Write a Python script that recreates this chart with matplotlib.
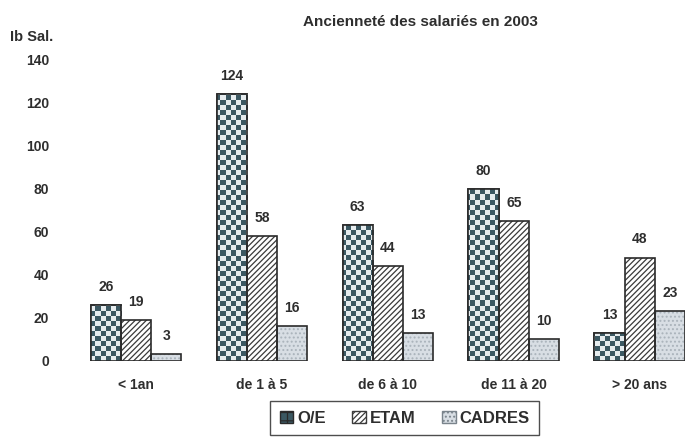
import numpy as np
import matplotlib
matplotlib.use("Agg")
import matplotlib.pyplot as plt
from matplotlib.patches import Patch
from matplotlib.colors import ListedColormap

categories = ["< 1an", "de 1 à 5", "de 6 à 10", "de 11 à 20", "> 20 ans"]
series_names = ["O/E", "ETAM", "CADRES"]
oe = [26, 124, 63, 80, 13]
etam = [19, 58, 44, 65, 48]
cadres = [3, 16, 13, 10, 23]
yticks = [0, 20, 40, 60, 80, 100, 120, 140]

plt.rcParams['font.family'] = ['Liberation Sans', 'DejaVu Sans']
plt.rcParams['hatch.linewidth'] = 0.9
TXT = '#2e2e2e'
EDGE = '#2a2a2a'
DARK = '#3b5862'

fig = plt.figure(figsize=(6.85, 4.38), dpi=100)
ax = fig.add_axes([85/685, 0.176, 600/685, 0.688])

x = np.arange(len(categories))
w = 0.24
xlim = (-0.405, 4.36)
ylim = (0, 140)
ax.set_xlim(*xlim)
ax.set_ylim(*ylim)

# O/E bars: dark fill with checker texture
b_oe = ax.bar(x - w, oe, w, color=DARK, edgecolor=EDGE, linewidth=1.2, zorder=2)
ncols = int(600 / 5)
nrows = int(0.688 * 438 / 5)
checker = (np.add.outer(np.arange(nrows), np.arange(ncols)) % 2).astype(float)
cmap = ListedColormap([DARK, '#e6ecee'])
for bar in b_oe:
    im = ax.imshow(checker, extent=(xlim[0], xlim[1], ylim[0], ylim[1]), cmap=cmap,
                   interpolation='nearest', aspect='auto', zorder=2.5, origin='lower')
    im.set_clip_path(bar)
    ax.bar(bar.get_x() + bar.get_width() / 2, bar.get_height(), bar.get_width(),
           facecolor='none', edgecolor=EDGE, linewidth=1.2, zorder=3)

# ETAM bars: diagonal hatch
b_etam = ax.bar(x, etam, w, facecolor='white', edgecolor='#3a3a3a', hatch='//////',
                linewidth=0, zorder=2)
ax.bar(x, etam, w, facecolor='none', edgecolor=EDGE, linewidth=1.2, zorder=3)

# CADRES bars: light stipple
b_cad = ax.bar(x + w, cadres, w, facecolor='#d8dee4', edgecolor='#aab3bb', hatch='....',
               linewidth=0, zorder=2)
ax.bar(x + w, cadres, w, facecolor='none', edgecolor=EDGE, linewidth=1.2, zorder=3)

for bars, vals in [(b_oe, oe), (b_etam, etam), (b_cad, cadres)]:
    for bar, v in zip(bars, vals):
        ax.annotate(str(v), (bar.get_x() + bar.get_width() / 2, v),
                    xytext=(0, 8), textcoords='offset points', ha='center', va='bottom',
                    fontsize=10, fontweight='bold', color=TXT, zorder=4, clip_on=False)

for s in ax.spines.values():
    s.set_visible(False)
ax.set_xticks(x)
ax.set_xticklabels(categories, fontsize=10, fontweight='bold', color=TXT)
ax.set_yticks(yticks)
ax.set_yticklabels([str(t) for t in yticks], fontsize=10, fontweight='bold', color=TXT)
ax.tick_params(axis='both', length=0)
ax.tick_params(axis='y', pad=26)
ax.tick_params(axis='x', pad=12)

fig.text(10/685, 1 - 37/438, "Ib Sal.", fontsize=10.5, fontweight='bold', color=TXT,
         va='center', ha='left')
fig.text(420/685, 1 - 22/438, "Ancienneté des salariés en 2003", fontsize=11,
         fontweight='bold', color=TXT, va='center', ha='center')

handles = [Patch(facecolor=DARK, edgecolor=EDGE, hatch='++'),
           Patch(facecolor='white', edgecolor='#3a3a3a', hatch='//////'),
           Patch(facecolor='#d8dee4', edgecolor='#7a848c', hatch='....')]
leg = fig.legend(handles, series_names, loc='upper left',
                 bbox_to_anchor=(262/685, 1 - 393/438), ncol=3, frameon=True,
                 fancybox=False, edgecolor='#222222', handlelength=0.8, handleheight=0.8,
                 handletextpad=0.25, columnspacing=1.6, borderpad=0.55,
                 prop={'weight': 'bold', 'size': 12})
leg.get_frame().set_linewidth(1.0)
for t in leg.get_texts():
    t.set_color(TXT)

fig.savefig("out.png", dpi=100)
